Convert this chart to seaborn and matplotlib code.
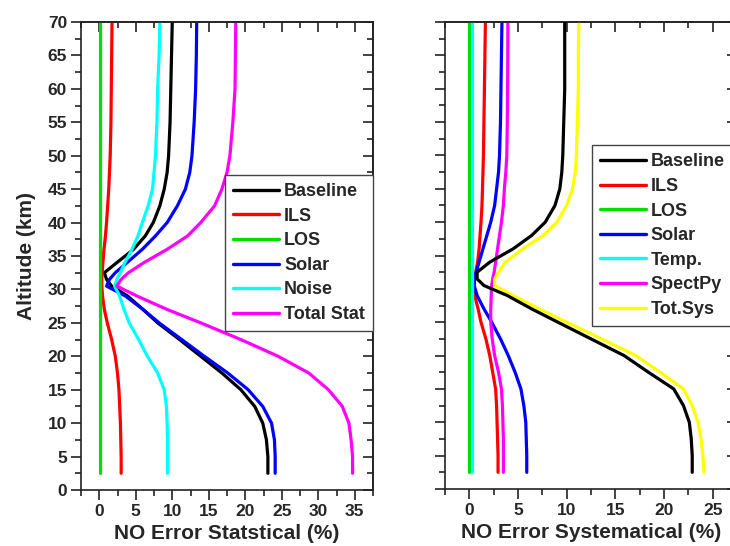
import numpy as np
import pandas as pd
import matplotlib
matplotlib.use("Agg")
import matplotlib.pyplot as plt
from matplotlib.ticker import MultipleLocator
import seaborn as sns

# ---------------- data ----------------
altitude = [2.5, 5, 7.5, 10, 12.5, 15, 17.5, 20, 22.5, 25, 27, 29, 30.5, 31.5,
            32.5, 34, 36, 38, 40, 42.5, 45, 47.5, 50, 55, 60, 65, 70]

# Statistical errors (%)
stat_baseline = [23.1, 23.1, 22.9, 22.4, 21.3, 19.4, 16.8, 13.9, 11.0, 8.0, 6.0, 3.9, 1.7, 1.0,
                 0.7, 2.4, 4.7, 6.3, 7.4, 8.3, 8.9, 9.3, 9.5, 9.7, 9.8, 9.9, 10.0]
stat_ils = [3.0, 3.0, 2.95, 2.9, 2.8, 2.7, 2.5, 2.2, 1.7, 1.1, 0.7, 0.45, 0.35, 0.35,
            0.4, 0.5, 0.65, 0.85, 1.0, 1.15, 1.3, 1.4, 1.5, 1.6, 1.65, 1.7, 1.75]
stat_los = [0.1, 0.1, 0.1, 0.1, 0.1, 0.1, 0.1, 0.1, 0.1, 0.1, 0.1, 0.1, 0.1, 0.1,
            0.1, 0.1, 0.1, 0.1, 0.1, 0.1, 0.1, 0.1, 0.1, 0.1, 0.1, 0.1, 0.1]
stat_solar = [24.1, 24.1, 24.0, 23.6, 22.4, 20.4, 17.6, 14.4, 11.3, 8.2, 6.0, 3.6, 1.0, 1.4,
              2.2, 3.8, 5.9, 7.7, 9.3, 10.7, 11.8, 12.4, 12.7, 13.0, 13.2, 13.3, 13.35]
stat_noise = [9.35, 9.35, 9.35, 9.3, 9.2, 8.9, 8.0, 6.6, 5.4, 4.1, 3.4, 2.8, 2.1, 2.4,
              2.9, 3.5, 4.5, 5.3, 5.9, 6.7, 7.3, 7.5, 7.7, 7.9, 8.0, 8.2, 8.3]
stat_total = [34.7, 34.7, 34.5, 34.2, 33.3, 31.4, 28.7, 24.5, 19.4, 13.9, 9.3, 5.2, 2.4, 3.0,
              4.0, 6.1, 9.3, 12.1, 13.9, 15.8, 16.8, 17.5, 17.9, 18.3, 18.6, 18.65, 18.7]

# Systematic errors (%)
sys_baseline = [22.9, 22.9, 22.8, 22.6, 22.0, 21.0, 18.4, 15.9, 12.5, 9.1, 6.4, 3.9, 1.5, 0.8,
                0.8, 2.1, 4.5, 6.4, 7.8, 8.8, 9.3, 9.5, 9.6, 9.7, 9.8, 9.8, 9.8]
sys_ils = [2.95, 2.95, 2.9, 2.85, 2.8, 2.7, 2.4, 2.1, 1.7, 1.2, 0.9, 0.55, 0.45, 0.5,
           0.65, 0.85, 1.0, 1.1, 1.2, 1.3, 1.35, 1.4, 1.45, 1.5, 1.55, 1.6, 1.65]
sys_los = [0.0, 0.0, 0.0, 0.0, 0.0, 0.0, 0.0, 0.0, 0.0, 0.0, 0.0, 0.0, 0.0, 0.0,
           0.0, 0.0, 0.0, 0.0, 0.0, 0.0, 0.0, 0.0, 0.0, 0.0, 0.0, 0.0, 0.0]
sys_solar = [5.9, 5.9, 5.85, 5.8, 5.6, 5.3, 4.7, 4.0, 3.2, 2.3, 1.5, 0.8, 0.5, 0.55,
             0.7, 1.0, 1.4, 1.8, 2.2, 2.6, 2.8, 3.0, 3.1, 3.2, 3.25, 3.3, 3.35]
sys_temp = [0.25, 0.25, 0.25, 0.25, 0.25, 0.25, 0.25, 0.25, 0.25, 0.25, 0.25, 0.25, 0.25, 0.25,
            0.25, 0.25, 0.25, 0.25, 0.25, 0.25, 0.25, 0.25, 0.25, 0.25, 0.25, 0.25, 0.25]
sys_spectpy = [3.5, 3.5, 3.5, 3.45, 3.4, 3.3, 3.0, 2.6, 2.35, 2.2, 2.2, 2.25, 2.3, 2.4,
               2.55, 2.7, 2.9, 3.1, 3.3, 3.5, 3.6, 3.75, 3.85, 3.9, 3.93, 3.95, 3.96]
sys_total = [24.1, 24.0, 23.8, 23.5, 22.9, 22.0, 19.6, 17.1, 13.6, 10.0, 7.2, 4.5, 2.6, 2.6,
             3.0, 3.7, 5.5, 7.6, 9.0, 10.0, 10.6, 10.9, 11.0, 11.1, 11.2, 11.2, 11.25]

stat_labels = ["Baseline", "ILS", "LOS", "Solar", "Noise", "Total Stat"]
stat_series = [stat_baseline, stat_ils, stat_los, stat_solar, stat_noise, stat_total]
stat_colors = ["#000000", "#ff0000", "#00e000", "#0000ff", "#00ffff", "#ff00ff"]

sys_labels = ["Baseline", "ILS", "LOS", "Solar", "Temp.", "SpectPy", "Tot.Sys"]
sys_series = [sys_baseline, sys_ils, sys_los, sys_solar, sys_temp, sys_spectpy, sys_total]
sys_colors = ["#000000", "#ff0000", "#00e000", "#0000ff", "#00ffff", "#ff00ff", "#ffff00"]

xticks_stat = [0, 5, 10, 15, 20, 25, 30, 35]
xticks_sys = [0, 5, 10, 15, 20, 25]
yticks = [0, 5, 10, 15, 20, 25, 30, 35, 40, 45, 50, 55, 60, 65, 70]


def long_frame(labels, series):
    rows = []
    for lab, vals in zip(labels, series):
        for a, v in zip(altitude, vals):
            rows.append({"series": lab, "alt": a, "err": v})
    return pd.DataFrame(rows)


sns.set_style("ticks")
plt.rcParams["font.family"] = ["Liberation Sans", "DejaVu Sans"]
plt.rcParams["font.weight"] = "bold"
plt.rcParams["axes.linewidth"] = 1.2
plt.rcParams["axes.edgecolor"] = "#222222"
plt.rcParams["lines.solid_joinstyle"] = "round"

fig = plt.figure(figsize=(7.3, 5.46), dpi=100)
ax1 = fig.add_axes([81 / 730, 56 / 546, 292 / 730, 468 / 546])
ax2 = fig.add_axes([445 / 730, 57 / 546, 292 / 730, 467 / 546])


def style_axis(ax, xlim, xticks, show_ylabels, xlabel, legend_anchor, colors):
    ax.set_xlim(*xlim)
    ax.set_ylim(0, 70)
    ax.set_xticks(xticks)
    ax.set_yticks(yticks)
    ax.xaxis.set_minor_locator(MultipleLocator(2.5))
    ax.yaxis.set_minor_locator(MultipleLocator(2.5))
    ax.tick_params(axis="both", which="major", direction="out", length=7, width=1.2,
                   labelsize=12.5, pad=3, color="#222222")
    ax.tick_params(axis="both", which="minor", direction="out", length=4, width=1.2,
                   color="#222222")
    for lab in ax.get_xticklabels() + ax.get_yticklabels():
        lab.set_fontweight("bold")
    if not show_ylabels:
        ax.tick_params(axis="y", labelleft=False)
        ax.set_ylabel("")
    else:
        ax.set_ylabel("Altitude (km)", fontsize=15, fontweight="bold", labelpad=8)
    ax.set_xlabel(xlabel, fontsize=15, fontweight="bold", labelpad=4)
    # inward ticks on top and right
    top = ax.secondary_xaxis("top")
    top.set_xticks(xticks)
    top.xaxis.set_minor_locator(MultipleLocator(2.5))
    top.tick_params(which="major", direction="in", length=7, width=1.2, labeltop=False,
                    color="#222222")
    top.tick_params(which="minor", direction="in", length=4, width=1.2, color="#222222")
    right = ax.secondary_yaxis("right")
    right.set_yticks(yticks)
    right.yaxis.set_minor_locator(MultipleLocator(2.5))
    right.tick_params(which="major", direction="in", length=7, width=1.2, labelright=False,
                      color="#222222")
    right.tick_params(which="minor", direction="in", length=4, width=1.2, color="#222222")
    # legend
    old = ax.get_legend()
    handles = old.legend_handles
    texts = [t.get_text() for t in old.get_texts()]
    for h, c in zip(handles, colors):
        h.set_linewidth(2.4)
        h.set_color(c)
    old.remove()
    leg = ax.legend(handles, texts, loc="upper right", bbox_to_anchor=legend_anchor,
                    borderaxespad=0, frameon=True, fancybox=False, framealpha=1,
                    edgecolor="#444444", prop={"weight": "bold", "size": 13},
                    handlelength=2.55, handletextpad=0.28, labelspacing=0.42,
                    borderpad=0.45)
    leg.get_frame().set_linewidth(1.0)


df_stat = long_frame(stat_labels, stat_series)
df_sys = long_frame(sys_labels, sys_series)

sns.lineplot(data=df_stat, x="err", y="alt", hue="series", hue_order=stat_labels,
             palette=dict(zip(stat_labels, stat_colors)), orient="y", sort=False,
             estimator=None, linewidth=2.3, ax=ax1)
sns.lineplot(data=df_sys, x="err", y="alt", hue="series", hue_order=sys_labels,
             palette=dict(zip(sys_labels, sys_colors)), orient="y", sort=False,
             estimator=None, linewidth=2.3, ax=ax2)
# baseline drawn above the total systematic curve
ax2.lines[0].set_zorder(3)

style_axis(ax1, (-2.5, 37.5), xticks_stat, True, "NO Error Statstical (%)", (1.0, 0.673),
           stat_colors)
style_axis(ax2, (-2.5, 27.5), xticks_sys, False, "NO Error Systematical (%)",
           (0.986, 0.736), sys_colors)

fig.savefig("out.png", dpi=100)
